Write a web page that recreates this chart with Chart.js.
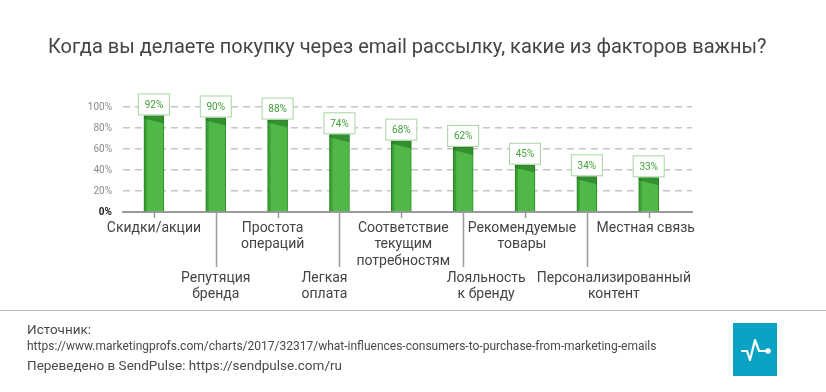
<!DOCTYPE html>
<html lang="ru">
<head>
<meta charset="utf-8">
<script src="https://cdn.jsdelivr.net/npm/chart.js@4/dist/chart.umd.min.js"></script>
<style>
  html, body { margin: 0; padding: 0; background: #fff; }
  body { width: 826px; height: 392px; position: relative; overflow: hidden; font-family: Roboto, "Noto Sans", sans-serif; color: #444; }
  #wrap { position: absolute; left: 0; top: 0; width: 826px; height: 392px; }
  .title { position: absolute; left: 48px; top: 34px; font-size: 20px; color: #444; white-space: nowrap; }
  .rule { position: absolute; left: 0; top: 310px; width: 826px; height: 1px; background: #bdbdbd; }
  .src { position: absolute; left: 27px; white-space: nowrap; color: #4a4a4a; }
  .logo { position: absolute; left: 733px; top: 323px; width: 44px; height: 53px; background: #0aa3c4; }
</style>
</head>
<body>
<div id="wrap"><canvas id="chart"></canvas></div>
<div class="title">Когда вы делаете покупку через email рассылку, какие из факторов важны?</div>
<div class="rule"></div>
<div class="src" style="top:321px;font-size:13.5px;">Источник:</div>
<div class="src" style="top:339px;font-size:12px;">https://www.marketingprofs.com/charts/2017/32317/what-influences-consumers-to-purchase-from-marketing-emails</div>
<div class="src" style="top:357px;font-size:13.5px;">Переведено в SendPulse: https://sendpulse.com/ru</div>
<div class="logo">
  <svg width="44" height="53" viewBox="0 0 44 53">
    <polyline points="9,28 14,28 17,37 22,17 26,28 35,28" fill="none" stroke="#fff" stroke-width="2.2" stroke-linejoin="round" stroke-linecap="round"/>
    <circle cx="35" cy="28" r="2.8" fill="#fff"/>
  </svg>
</div>

<script>
// --- data ---
const categories = [
  ['Скидки/акции'],
  ['Репутяция', 'бренда'],
  ['Простота', 'операций'],
  ['Легкая', 'оплата'],
  ['Соответствие', 'текущим', 'потребностям'],
  ['Лояльность', 'к бренду'],
  ['Рекомендуемые', 'товары'],
  ['Персонализированный', 'контент'],
  ['Местная связь']
];
const values = [92, 90, 88, 74, 68, 62, 45, 34, 33];
const yTicks = [0, 20, 40, 60, 80, 100];

// horizontal nudge of some category labels so they don't collide (px)
const labelNudge = [0, 0, -5, -15, 2, 23, -3, 27, -3];

const GREEN = '#4fb846';
const GREEN_DARK = '#2b8d29';

// value boxes + darker top wedge on each bar
const barDecor = {
  id: 'barDecor',
  afterDatasetsDraw(chart) {
    const ctx = chart.ctx;
    const meta = chart.getDatasetMeta(0);
    ctx.save();
    meta.data.forEach((bar, i) => {
      const left = bar.x - bar.width / 2, right = bar.x + bar.width / 2;
      // shading at top of bar
      ctx.fillStyle = 'rgba(30,110,30,0.55)';
      ctx.beginPath();
      ctx.moveTo(left, bar.y);
      ctx.lineTo(right, bar.y);
      ctx.lineTo(right, bar.y + 8);
      ctx.lineTo(left, bar.y + 3);
      ctx.closePath();
      ctx.fill();
      ctx.fillStyle = 'rgba(30,110,30,0.35)';
      ctx.fillRect(left, bar.y, 3, bar.base - bar.y);

      // label box
      const w = 32, h = 22;
      ctx.fillStyle = '#fff';
      ctx.fillRect(bar.x - w / 2, bar.y - h, w, h);
      ctx.strokeStyle = '#a5d69e';
      ctx.lineWidth = 1;
      ctx.strokeRect(bar.x - w / 2 + 0.5, bar.y - h + 0.5, w - 1, h - 1);
      ctx.fillStyle = '#43a03a';
      ctx.font = '10px Roboto, sans-serif';
      ctx.textAlign = 'center';
      ctx.textBaseline = 'middle';
      ctx.fillText(values[i] + '%', bar.x, bar.y - h / 2 + 1);
    });
    ctx.restore();
  }
};

// tick lines + staggered category labels under the axis
const xLabels = {
  id: 'xLabels',
  afterDraw(chart) {
    const ctx = chart.ctx;
    const xs = chart.scales.x;
    const y0 = chart.chartArea.bottom;
    ctx.save();
    ctx.strokeStyle = '#9a9a9a';
    ctx.lineWidth = 1.5;
    categories.forEach((_, i) => {
      const x = Math.round(xs.getPixelForValue(i)) + 0.5;
      ctx.beginPath();
      ctx.moveTo(x, y0);
      ctx.lineTo(x, y0 + (i % 2 ? 55 : 6));
      ctx.stroke();
    });
    ctx.fillStyle = '#444';
    ctx.font = '14px Roboto, sans-serif';
    ctx.textAlign = 'center';
    ctx.textBaseline = 'middle';
    categories.forEach((lines, i) => {
      const x = xs.getPixelForValue(i) + labelNudge[i];
      const top = y0 + (i % 2 ? 66 : 16);
      lines.forEach((t, j) => ctx.fillText(t, x, top + j * 16.5));
    });
    ctx.restore();
  }
};

new Chart(document.getElementById('chart'), {
  type: 'bar',
  data: {
    datasets: [{
      data: values.map((v, i) => ({ x: i, y: v })),
      backgroundColor: GREEN,
      borderColor: GREEN_DARK,
      borderWidth: 1,
      barThickness: 20
    }]
  },
  options: {
    responsive: true,
    maintainAspectRatio: false,
    animation: false,
    layout: { padding: { top: 107, right: 134, bottom: 80, left: 0 } },
    plugins: { legend: { display: false }, tooltip: { enabled: false } },
    scales: {
      x: {
        type: 'linear',
        offset: false,
        min: -0.5,
        max: categories.length - 0.3,
        grid: { display: false, drawTicks: false },
        border: { color: '#9a9a9a', width: 2 },
        ticks: { display: false },
        afterFit: s => { s.height = 100; }
      },
      y: {
        min: 0,
        max: 100,
        afterBuildTicks: s => { s.ticks = yTicks.map(v => ({ value: v })); },
        grid: {
          drawTicks: false,
          color: c => c.tick && c.tick.value === 0 ? 'rgba(0,0,0,0)' : '#c6c6c6',
          lineWidth: 1.5,
          borderDash: [7, 5]
        },
        border: { display: false, dash: [7, 5] },
        ticks: {
          padding: 11,
          color: c => c.tick.value === 0 ? '#222' : '#8c8c8c',
          font: c => c.tick && c.tick.value === 0
            ? { family: 'Roboto, sans-serif', size: 10, weight: 'bold' }
            : { family: 'Roboto, sans-serif', size: 10 },
          callback: v => v + '%'
        },
        afterFit: s => { s.width = 123; }
      }
    }
  },
  plugins: [barDecor, xLabels]
});
</script>
</body>
</html>
